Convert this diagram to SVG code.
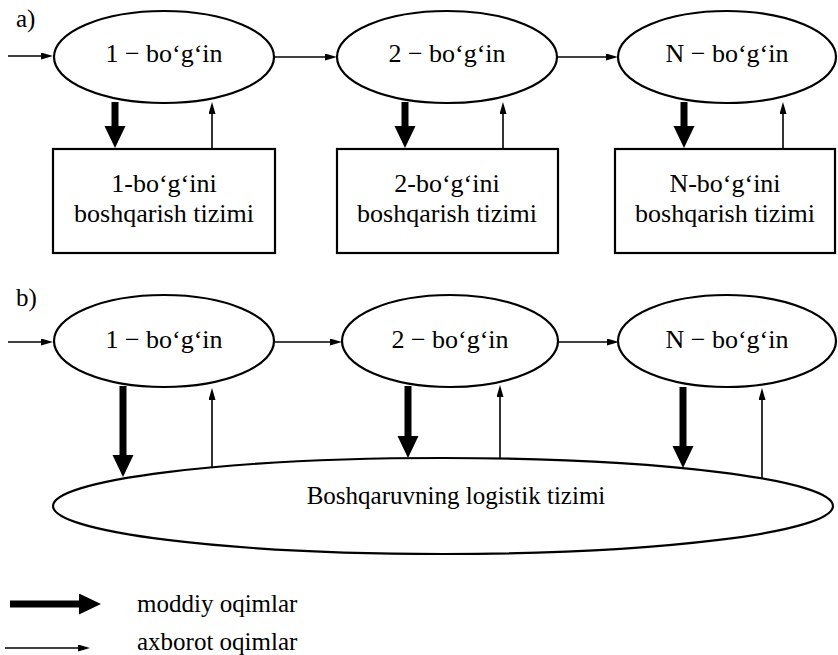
<svg xmlns="http://www.w3.org/2000/svg" width="838" height="655" viewBox="0 0 838 655">
<style>
.sh{fill:#fff;stroke:#000;stroke-width:2.2}
.t{font-family:"Liberation Serif","Times New Roman",serif;font-size:26px;fill:#000;text-anchor:middle}
.tl{font-family:"Liberation Serif","Times New Roman",serif;font-size:25px;fill:#000}
.thin{stroke:#000;stroke-width:1.6;fill:none;marker-end:url(#ah)}
.thick{stroke:#000;stroke-width:7;fill:none;marker-end:url(#AH)}
</style>
<defs>
<marker id="ah" markerUnits="userSpaceOnUse" markerWidth="12" markerHeight="8" refX="0" refY="3.5" orient="auto">
<path d="M0,0 L12,3.5 L0,7 z" fill="#000"/>
</marker>
<marker id="AH" markerUnits="userSpaceOnUse" markerWidth="22" markerHeight="22" refX="0" refY="10.5" orient="auto">
<path d="M0,0 L22,10.5 L0,21 z" fill="#000"/>
</marker>
</defs>
<text class="tl" x="16" y="27">a)</text>
<text class="tl" x="16" y="306">b)</text>
<g id="a1"><ellipse class="sh" cx="164" cy="57" rx="110" ry="46"/><text class="t" x="164" y="62">1 − bo‘g‘in</text></g>
<g id="a2"><ellipse class="sh" cx="447" cy="57" rx="110" ry="46"/><text class="t" x="447" y="62">2 − bo‘g‘in</text></g>
<g id="aN"><ellipse class="sh" cx="727" cy="57" rx="109" ry="46"/><text class="t" x="727" y="62">N − bo‘g‘in</text></g>
<g id="box1"><rect class="sh" x="53" y="149" width="222" height="104"/><text class="t" x="164" y="192">1-bo‘g‘ini</text><text class="t" x="164" y="222">boshqarish tizimi</text></g>
<g id="box2"><rect class="sh" x="337" y="149" width="221" height="104"/><text class="t" x="447" y="192">2-bo‘g‘ini</text><text class="t" x="447" y="222">boshqarish tizimi</text></g>
<g id="boxN"><rect class="sh" x="615" y="149" width="220" height="104"/><text class="t" x="725" y="192">N-bo‘g‘ini</text><text class="t" x="725" y="222">boshqarish tizimi</text></g>
<g id="b1"><ellipse class="sh" cx="164" cy="341" rx="110" ry="46"/><text class="t" x="164" y="348">1 − bo‘g‘in</text></g>
<g id="b2"><ellipse class="sh" cx="450" cy="341" rx="108" ry="46"/><text class="t" x="450" y="348">2 − bo‘g‘in</text></g>
<g id="bN"><ellipse class="sh" cx="727" cy="341" rx="109" ry="46"/><text class="t" x="727" y="348">N − bo‘g‘in</text></g>
<g id="logistik"><ellipse class="sh" cx="443" cy="506" rx="390" ry="48"/><text class="t" x="456" y="504" style="font-size:25px">Boshqaruvning logistik tizimi</text></g>
<g id="connectors">
<line class="thin" x1="8" y1="56" x2="41" y2="56"/>
<line class="thin" x1="274" y1="57" x2="325" y2="57"/>
<line class="thin" x1="557" y1="57" x2="606" y2="57"/>
<line class="thick" x1="115" y1="102" x2="115" y2="126"/>
<line class="thin" x1="212" y1="149" x2="212" y2="114"/>
<line class="thick" x1="405" y1="102" x2="405" y2="126"/>
<line class="thin" x1="503" y1="149" x2="503" y2="114"/>
<line class="thick" x1="684" y1="102" x2="684" y2="126"/>
<line class="thin" x1="783" y1="149" x2="783" y2="114"/>
<line class="thin" x1="8" y1="342" x2="41" y2="342"/>
<line class="thin" x1="274" y1="342" x2="330" y2="342"/>
<line class="thin" x1="558" y1="342" x2="607" y2="342"/>
<line class="thick" x1="123" y1="386" x2="123" y2="455"/>
<line class="thin" x1="212" y1="467" x2="212" y2="400"/>
<line class="thick" x1="408" y1="386" x2="408" y2="436"/>
<line class="thin" x1="500" y1="459" x2="500" y2="397"/>
<line class="thick" x1="683" y1="387" x2="683" y2="446"/>
<line class="thin" x1="762" y1="478" x2="762" y2="400"/>
</g>
<g id="legend">
<line class="thick" x1="10" y1="604" x2="79" y2="604"/>
<text class="tl" x="137" y="612">moddiy oqimlar</text>
<line class="thin" x1="5" y1="648" x2="78" y2="648"/>
<text class="tl" x="137" y="650">axborot oqimlar</text>
</g>
</svg>
